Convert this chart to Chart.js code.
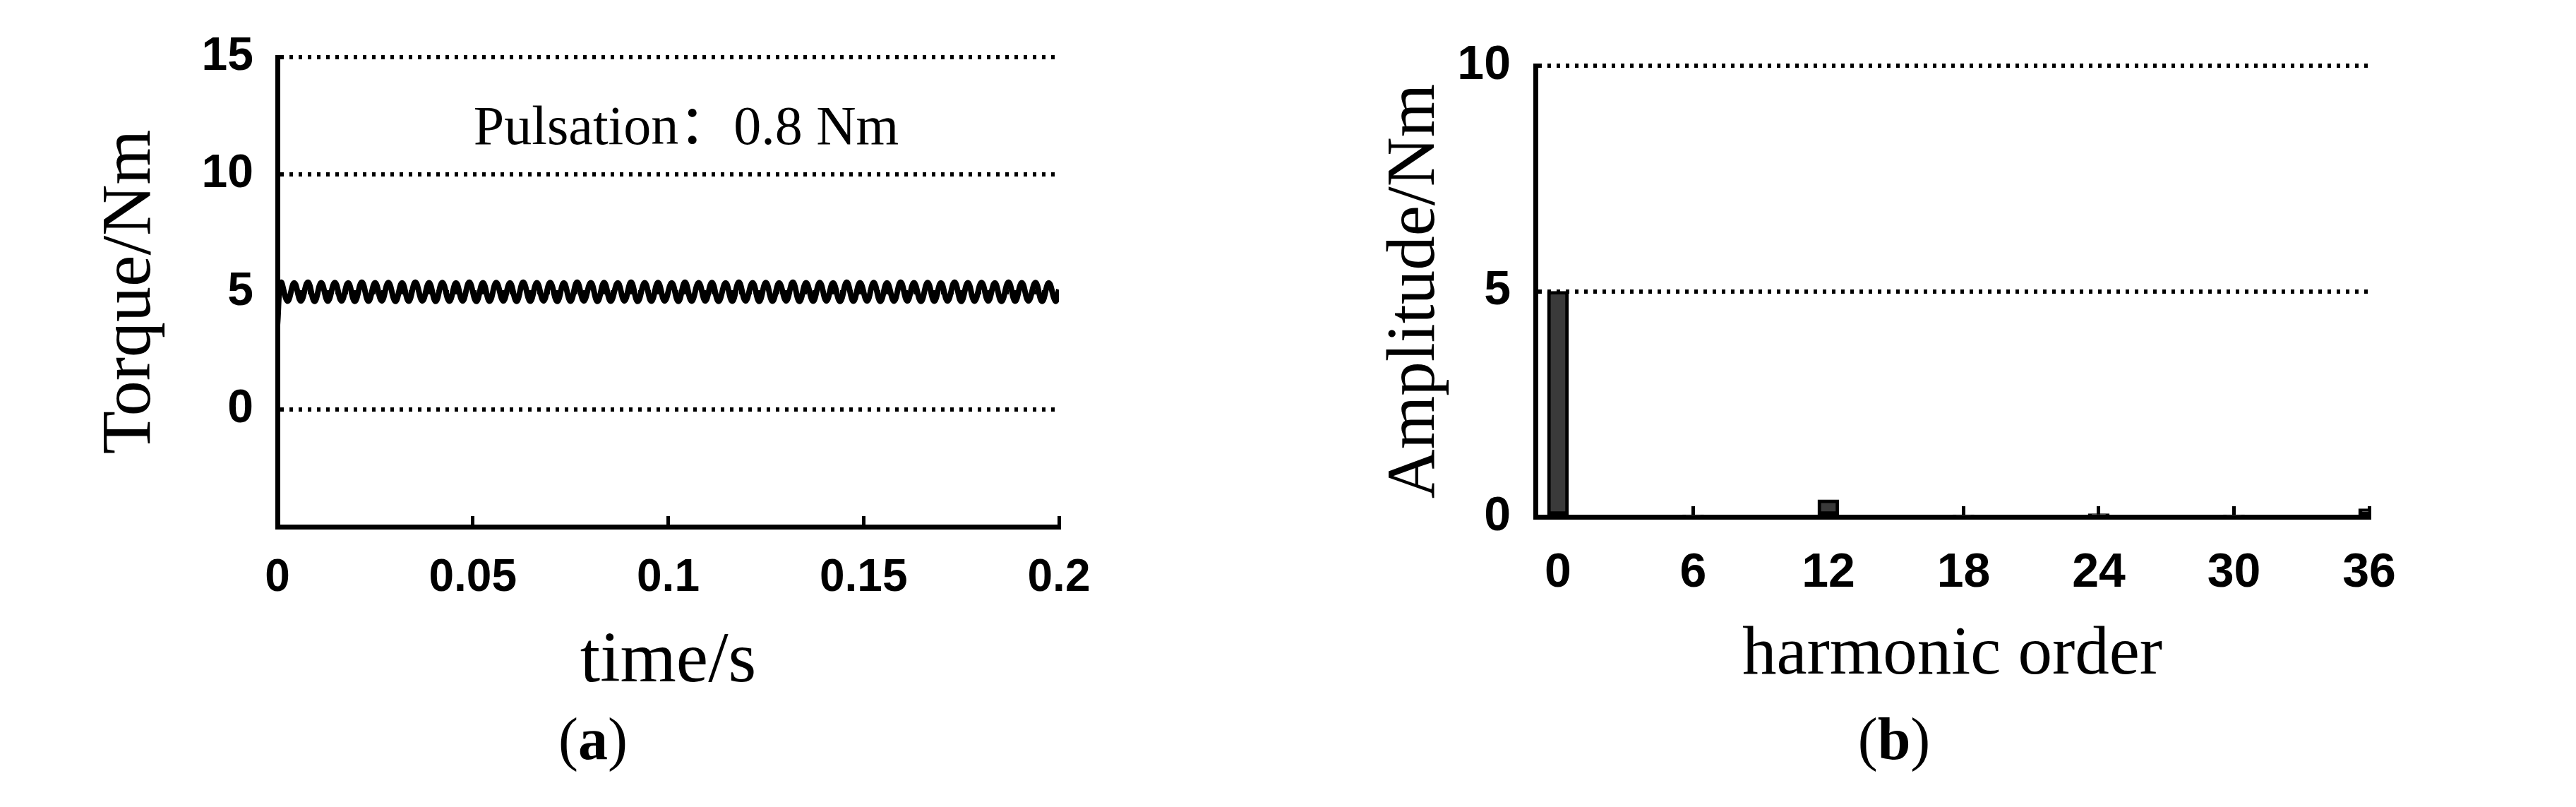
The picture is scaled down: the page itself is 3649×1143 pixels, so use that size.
<!DOCTYPE html>
<html>
<head>
<meta charset="utf-8">
<title>Torque pulsation and harmonic spectrum</title>
<script src="https://cdn.jsdelivr.net/npm/chart.js@4.4.1/dist/chart.umd.min.js"></script>
<style>
  html, body { margin: 0; padding: 0; background: #fff; }
  body { width: 3649px; height: 1143px; position: relative; overflow: hidden; }
  canvas { position: absolute; top: 0; }
  #torqueChart { left: 0; }
  #spectrumChart { left: 1850px; }
  .caption {
    position: absolute; top: 1005px;
    font: 84px/1 "Liberation Serif", "Times New Roman", serif;
    transform: translateX(-50%); white-space: nowrap;
  }
</style>
</head>
<body>
<canvas id="torqueChart" width="1700" height="1143"></canvas>
<canvas id="spectrumChart" width="1799" height="1143"></canvas>
<div class="caption" style="left:840px">(<b>a</b>)</div>
<div class="caption" style="left:2683px">(<b>b</b>)</div>
<script>
// (a) torque waveform, peaks and troughs
const timeS = [
  0,
  0.0009, 0.0026, 0.0043, 0.0060, 0.0078, 0.0095, 0.0112, 0.0129, 0.0147, 0.0164,
  0.0181, 0.0198, 0.0216, 0.0233, 0.0250, 0.0267, 0.0284, 0.0302, 0.0319, 0.0336,
  0.0353, 0.0371, 0.0388, 0.0405, 0.0422, 0.0440, 0.0457, 0.0474, 0.0491, 0.0509,
  0.0526, 0.0543, 0.0560, 0.0578, 0.0595, 0.0612, 0.0629, 0.0647, 0.0664, 0.0681,
  0.0698, 0.0716, 0.0733, 0.0750, 0.0767, 0.0784, 0.0802, 0.0819, 0.0836, 0.0853,
  0.0871, 0.0888, 0.0905, 0.0922, 0.0940, 0.0957, 0.0974, 0.0991, 0.1009, 0.1026,
  0.1043, 0.1060, 0.1078, 0.1095, 0.1112, 0.1129, 0.1147, 0.1164, 0.1181, 0.1198,
  0.1216, 0.1233, 0.1250, 0.1267, 0.1284, 0.1302, 0.1319, 0.1336, 0.1353, 0.1371,
  0.1388, 0.1405, 0.1422, 0.1440, 0.1457, 0.1474, 0.1491, 0.1509, 0.1526, 0.1543,
  0.1560, 0.1578, 0.1595, 0.1612, 0.1629, 0.1647, 0.1664, 0.1681, 0.1698, 0.1715,
  0.1733, 0.1750, 0.1767, 0.1784, 0.1802, 0.1819, 0.1836, 0.1853, 0.1871, 0.1888,
  0.1905, 0.1922, 0.1940, 0.1957, 0.1974, 0.1991,
  0.2000,
]
const torqueNm = [
  3.60,
  5.40, 4.61, 5.38, 4.62, 5.41, 4.60, 5.39, 4.61, 5.40, 4.62,
  5.38, 4.60, 5.41, 4.61, 5.39, 4.62, 5.40, 4.60, 5.38, 4.61,
  5.41, 4.62, 5.39, 4.60, 5.40, 4.61, 5.38, 4.62, 5.41, 4.60,
  5.39, 4.61, 5.40, 4.62, 5.38, 4.60, 5.41, 4.61, 5.39, 4.62,
  5.40, 4.60, 5.38, 4.61, 5.41, 4.62, 5.39, 4.60, 5.40, 4.61,
  5.38, 4.62, 5.41, 4.60, 5.39, 4.61, 5.40, 4.62, 5.38, 4.60,
  5.41, 4.61, 5.39, 4.62, 5.40, 4.60, 5.38, 4.61, 5.41, 4.62,
  5.39, 4.60, 5.40, 4.61, 5.38, 4.62, 5.41, 4.60, 5.39, 4.61,
  5.40, 4.62, 5.38, 4.60, 5.41, 4.61, 5.39, 4.62, 5.40, 4.60,
  5.38, 4.61, 5.41, 4.62, 5.39, 4.60, 5.40, 4.61, 5.38, 4.62,
  5.41, 4.60, 5.39, 4.61, 5.40, 4.62, 5.38, 4.60, 5.41, 4.61,
  5.39, 4.62, 5.40, 4.60, 5.38, 4.61,
  5.10,
]
const timeTicks = [0, 0.05, 0.1, 0.15, 0.2]
const torqueTicks = [-5, 0, 5, 10, 15]
const pulsationNote = "Pulsation：0.8 Nm"

// (b) harmonic spectrum
const harmonicOrder = [0, 6, 12, 18, 24, 30, 36]
const amplitudeNm = [5.0, 0.02, 0.38, 0.02, 0.07, 0.02, 0.18]
const harmonicTicks = [0, 6, 12, 18, 24, 30, 36]
const amplitudeTicks = [0, 5, 10]

const tickFont = (size) => ({ family: "'Liberation Sans', Arial, sans-serif", size: size, weight: "bold" })
const titleFont = (size) => ({ family: "'Liberation Serif', 'Times New Roman', serif", size: size, weight: "normal" })

Chart.defaults.color = "#000"

// text note placed in data coordinates
const noteLabel = {
  id: "noteLabel",
  afterDraw(chart, args, opts) {
    if (!opts.text) return
    const { ctx, scales } = chart
    ctx.save()
    ctx.font = "78px 'Liberation Serif', 'Noto Sans CJK SC', serif"
    ctx.fillStyle = "#000"
    ctx.textBaseline = "alphabetic"
    ctx.fillText(opts.text, scales.x.getPixelForValue(opts.x), scales.y.getPixelForValue(opts.y))
    ctx.restore()
  },
}

function bottomAxis(ticks, size, pad, titleText, titleSize, titlePad) {
  return {
    type: "linear",
    offset: false,
    afterBuildTicks: (s) => { s.ticks = ticks.map((v) => ({ value: v })) },
    afterFit: (s) => { s.height = 260 },
    ticks: { font: tickFont(size), color: "#000", padding: pad, maxRotation: 0, autoSkip: false, callback: (v) => String(v) },
    // short tick marks pointing up into the plot
    grid: { display: true, offset: false, drawOnChartArea: false, drawTicks: true, tickLength: -15, tickWidth: 5, tickColor: "#000" },
    border: { display: true, color: "#000", width: 7 },
    title: { display: true, text: titleText, color: "#000", font: titleFont(titleSize), padding: { top: 0, bottom: titlePad } },
  }
}

function leftAxis(ticks, width, size, pad, titleText, titleSize, titlePad) {
  return {
    afterBuildTicks: (s) => { s.ticks = ticks.map((v) => ({ value: v })) },
    afterFit: (s) => { s.width = width },
    ticks: { font: tickFont(size), color: "#000", padding: pad, callback: (v) => (v < 0 ? "" : String(v)) },
    grid: {
      color: (c) => (c.tick && c.tick.value < 0 ? "rgba(0,0,0,0)" : "#000"),
      lineWidth: 6,
      drawTicks: false,
    },
    border: { display: true, color: "#000", width: 7, dash: [5, 8] },
    title: { display: true, text: titleText, color: "#000", font: titleFont(titleSize), padding: { top: titlePad, bottom: 0 } },
  }
}

function initializeTorqueChart() {
  const ctx = document.getElementById("torqueChart").getContext("2d")
  const yAxis = leftAxis(torqueTicks, 393, 66, 34, "Torque/Nm", 100, 126)
  yAxis.min = -5
  yAxis.max = 15
  const xAxis = bottomAxis(timeTicks, 64, 50, "time/s", 102, 7)
  xAxis.min = 0
  xAxis.max = 0.2

  new Chart(ctx, {
    type: "line",
    data: {
      datasets: [
        {
          label: "Torque",
          data: timeS.map((t, i) => ({ x: t, y: torqueNm[i] })),
          borderColor: "#000",
          borderWidth: 8,
          pointRadius: 0,
          tension: 0.4,
          fill: false,
        },
      ],
    },
    options: {
      responsive: false,
      animation: false,
      layout: { padding: { left: 0, top: 81, right: 200, bottom: 137 } },
      plugins: {
        legend: { display: false },
        tooltip: { enabled: false },
        noteLabel: { text: pulsationNote, x: 0.0502, y: 11.3 },
      },
      scales: { x: xAxis, y: yAxis },
    },
    plugins: [noteLabel],
  })
}

function initializeSpectrumChart() {
  const ctx = document.getElementById("spectrumChart").getContext("2d")
  const yAxis = leftAxis(amplitudeTicks, 325, 68, 35, "Amplitude/Nm", 97, 97)
  yAxis.min = 0
  yAxis.max = 10
  const xAxis = bottomAxis(harmonicTicks, 68, 54, "harmonic order", 97, 5)
  xAxis.min = -1
  xAxis.max = 36

  new Chart(ctx, {
    type: "bar",
    data: {
      datasets: [
        {
          label: "Amplitude",
          data: harmonicOrder.map((h, i) => ({ x: h, y: amplitudeNm[i] })),
          backgroundColor: "#3a3a3a",
          borderColor: "#000",
          borderWidth: 5,
          borderSkipped: false,
          barThickness: 30,
          clip: 0,
        },
      ],
    },
    options: {
      responsive: false,
      animation: false,
      layout: { padding: { left: 0, top: 93, right: 293, bottom: 151 } },
      plugins: {
        legend: { display: false },
        tooltip: { enabled: false },
      },
      scales: { x: xAxis, y: yAxis },
    },
  })
}

initializeTorqueChart()
initializeSpectrumChart()
</script>
</body>
</html>
